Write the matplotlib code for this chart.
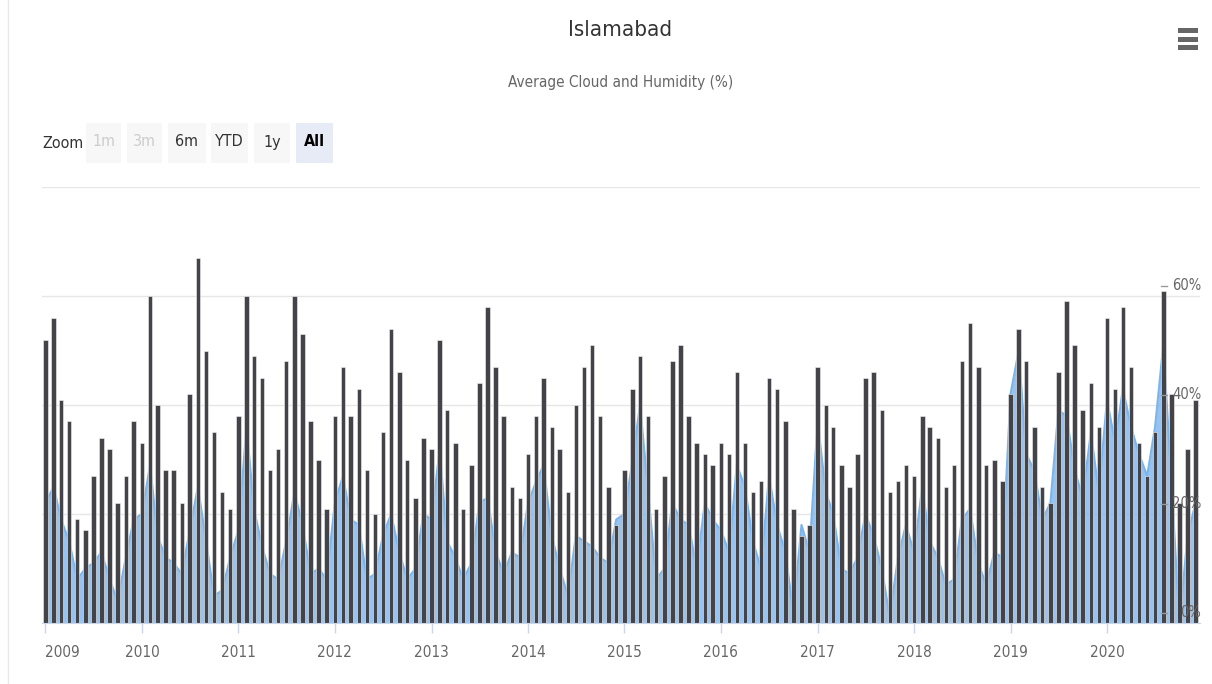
#%%imports
import matplotlib
matplotlib.use("Agg")
import matplotlib.pyplot as plt
import matplotlib.patches as mpatches
from matplotlib import font_manager
import pandas as pd

#%%data
W, H = 1212, 684

months = pd.date_range("2009-01-01", periods=144, freq="MS")
years = list(range(2009, 2021))

#average humidity (%), dark columns
humidity = [
    52, 56, 41, 37, 19, 17, 27, 34, 32, 22, 27, 37,   #2009
    33, 60, 40, 28, 28, 22, 42, 67, 50, 35, 24, 21,   #2010
    38, 60, 49, 45, 28, 32, 48, 60, 53, 37, 30, 21,   #2011
    38, 47, 38, 43, 28, 20, 35, 54, 46, 30, 23, 34,   #2012
    32, 52, 39, 33, 21, 29, 44, 58, 47, 38, 25, 23,   #2013
    31, 38, 45, 36, 32, 24, 40, 47, 51, 38, 25, 18,   #2014
    28, 43, 49, 38, 21, 27, 48, 51, 38, 33, 31, 29,   #2015
    33, 31, 46, 33, 24, 26, 45, 43, 37, 21, 16, 18,   #2016
    47, 40, 36, 29, 25, 31, 45, 46, 39, 24, 26, 29,   #2017
    27, 38, 36, 34, 25, 29, 48, 55, 47, 29, 30, 26,   #2018
    42, 54, 48, 36, 25, 22, 46, 59, 51, 39, 44, 36,   #2019
    56, 43, 58, 47, 33, 27, 35, 61, 42, 22, 32, 41,   #2020
]

#average cloud (%), blue area
cloud = [
    22, 25, 19, 15, 8, 10, 11, 13, 8, 4, 12, 19,      #2009
    20, 29, 16, 12, 11, 9, 17, 25, 15, 5, 6, 12,      #2010
    17, 36, 21, 14, 9, 8, 15, 24, 18, 9, 10, 8,       #2011
    22, 27, 19, 18, 8, 9, 16, 20, 13, 8, 10, 20,      #2012
    19, 32, 15, 12, 8, 11, 22, 23, 13, 9, 13, 12,     #2013
    22, 26, 29, 16, 10, 5, 16, 15, 14, 12, 11, 19,    #2014
    20, 30, 40, 24, 8, 10, 22, 19, 18, 10, 22, 19,    #2015
    17, 13, 29, 25, 15, 10, 27, 18, 13, 2, 18, 13,    #2016
    37, 24, 20, 10, 9, 12, 20, 16, 10, 1, 12, 18,     #2017
    13, 25, 15, 12, 7, 8, 19, 21, 11, 7, 13, 12,      #2018
    42, 50, 31, 28, 19, 22, 39, 38, 28, 23, 35, 24,   #2019
    41, 33, 43, 36, 31, 27, 36, 51, 26, 0, 16, 22,    #2020
]

y_ticks = [0, 20, 40, 60, 80]
y_labels = ["0%", "20%", "40%", "60%"]

buttons = ["1m", "3m", "6m", "YTD", "1y", "All"]
button_x = [(86, 121), (127, 162), (168, 206), (211, 248), (254, 290), (296, 333)]
button_state = ["off", "off", "on", "on", "on", "sel"]


#%%helpers
def fx(px): return px / W
def fy(py): return 1 - py / H


def pick_font():
    """
        - look for a narrow / condensed sans face, the reference text is squeezed
    """
    regular, bold = None, None
    for f in font_manager.fontManager.ttflist:
        narrow = ("Narrow" in f.name or "Condensed" in f.name or f.stretch in ("condensed", "semi-condensed"))
        if not narrow or f.style != "normal":
            continue
        w = f.weight if isinstance(f.weight, int) else (700 if "bold" in str(f.weight) else 400)
        if w >= 600 and bold is None: bold = f.fname
        if w < 600 and regular is None: regular = f.fname
    return regular, bold


#%%main
def main():
    reg, bld = pick_font()
    if reg:
        fp = lambda size, bold=False: font_manager.FontProperties(fname=(bld if (bold and bld) else reg), size=size,
                                                                 weight="bold" if bold else "normal")
        scale = 1.0
    else:
        fp = lambda size, bold=False: font_manager.FontProperties(family=["Liberation Sans", "DejaVu Sans"],
                                                                 size=size, weight="bold" if bold else "normal")
        scale = 0.85

    fig = plt.figure(figsize=(W / 100, H / 100), dpi=100)
    fig.patch.set_facecolor("white")

    #plot area in pixels: x 42..1200, y 187..623
    ax = fig.add_axes([fx(42), fy(623), fx(1200 - 42), (623 - 187) / H])
    ax.set_facecolor("white")

    ax.fill_between(months, cloud, 0, color="#7cb5ec", alpha=0.8, lw=0, zorder=2)
    ax.plot(months, cloud, color="#7cb5ec", lw=1.5, zorder=2)
    ax.bar(months, humidity, width=17, color="#434348", edgecolor="#f4f4f4", linewidth=0.4, zorder=3)

    ax.set_xlim(months[0] - pd.Timedelta(days=13), months[-1] + pd.Timedelta(days=17))
    ax.set_ylim(0, 80)

    for s in ["top", "right", "left"]:
        ax.spines[s].set_visible(False)
    ax.spines["bottom"].set_color("#ccd6eb")
    ax.spines["bottom"].set_zorder(4)

    ax.set_yticks(y_ticks)
    ax.set_yticklabels([])
    ax.tick_params(axis="y", length=0)
    ax.grid(axis="y", color="#e6e6e6", lw=1.0, zorder=0)
    ax.set_axisbelow(True)

    ax.set_xticks([pd.Timestamp(f"{y}-01-01") for y in years])
    ax.set_xticklabels([str(y) for y in years])
    for t in ax.get_xticklabels():
        t.set_fontproperties(fp(11 * scale))
        t.set_color("#666666")
    ax.tick_params(axis="x", length=7.5, width=1, color="#ccd6eb", pad=8)
    ax.get_xticklabels()[0].set_horizontalalignment("left")

    #y labels sit inside the plot, right aligned, a bit above the gridline
    for v, lab in zip(y_ticks, y_labels):
        ax.text(1.001, v + 1.9, lab, transform=ax.get_yaxis_transform(), ha="right", va="center",
                fontproperties=fp(10.5 * scale), color="#666666", zorder=5)
        fig.add_artist(plt.Line2D([fx(1161), fx(1167)], [fy(623 - v * 5.45 - 10)] * 2,
                                  color="#999999", lw=1))

    #titles
    fig.text(fx(620), fy(30), "Islamabad", ha="center", va="center", fontproperties=fp(16 * scale), color="#333333")
    fig.text(fx(621), fy(82), "Average Cloud and Humidity (%)", ha="center", va="center",
             fontproperties=fp(11 * scale), color="#666666")

    #range selector
    fig.text(fx(42), fy(143), "Zoom", ha="left", va="center", fontproperties=fp(11.5 * scale), color="#333333")
    for lab, (x0, x1), st in zip(buttons, button_x, button_state):
        bg = "#e6ebf5" if st == "sel" else "#f7f7f7"
        tc = {"off": "#cccccc", "on": "#333333", "sel": "#000000"}[st]
        fig.add_artist(mpatches.Rectangle((fx(x0), fy(163)), fx(x1 - x0), (163 - 123) / H,
                                          fc=bg, ec="none", transform=fig.transFigure))
        fig.text(fx((x0 + x1) / 2), fy(142), lab, ha="center", va="center",
                 fontproperties=fp(11.5 * scale, bold=(st == "sel")), color=tc)

    #left page border
    fig.add_artist(plt.Line2D([fx(8), fx(8)], [0, 1], color="#e8e8e8", lw=1))

    #menu icon
    for yy in (28, 36.5, 45):
        fig.add_artist(mpatches.Rectangle((fx(1178), fy(yy + 5)), fx(20), 5 / H,
                                          fc="#666666", ec="none", transform=fig.transFigure))

    fig.savefig("out.png", dpi=100, facecolor="white")


if __name__ == "__main__":
    main()
